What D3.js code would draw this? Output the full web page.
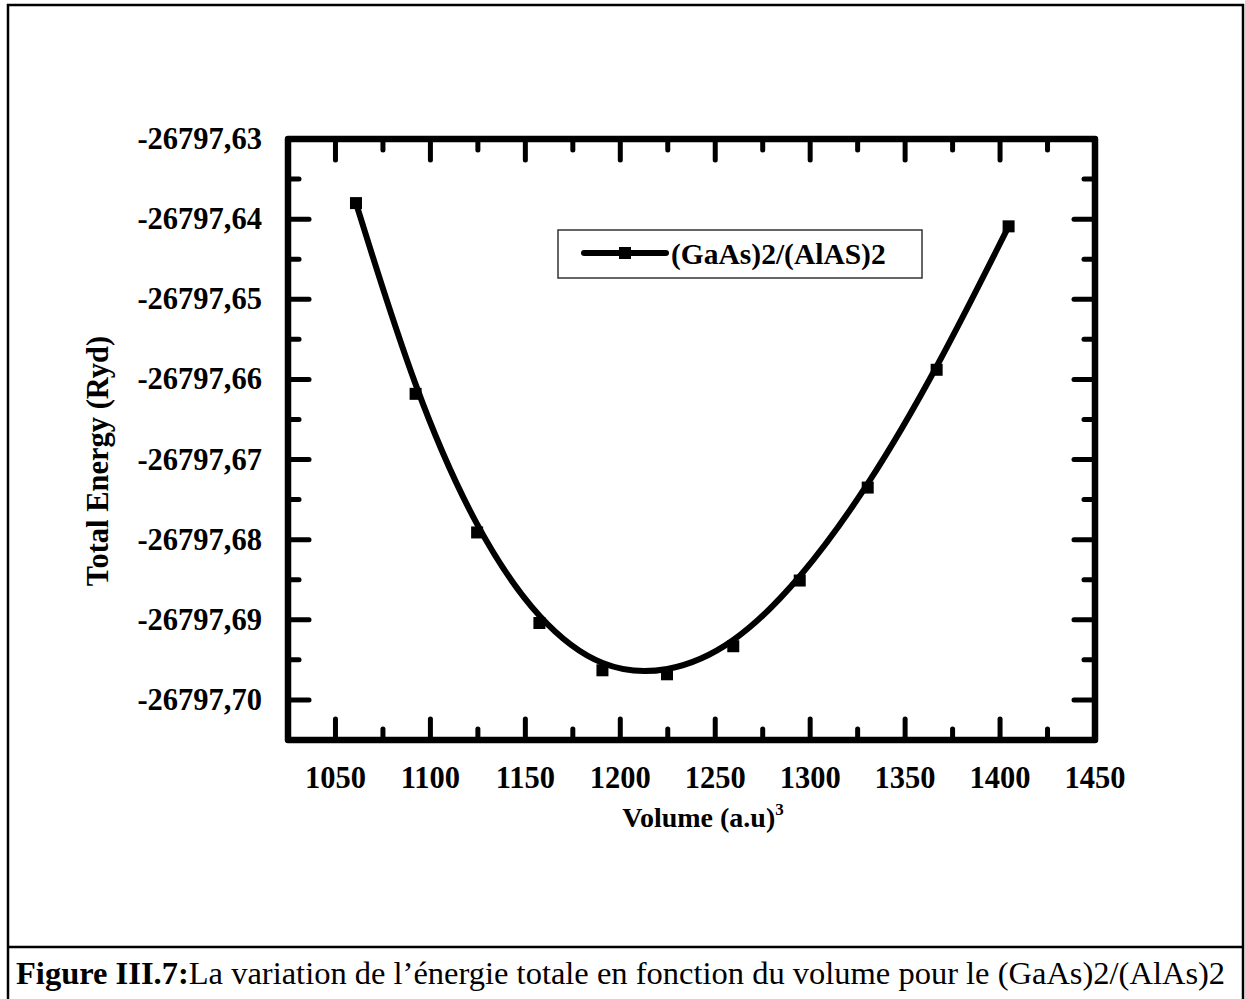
<!DOCTYPE html>
<html>
<head>
<meta charset="utf-8">
<script src="https://cdn.jsdelivr.net/npm/d3@7"></script>
<style>
  html, body { margin: 0; padding: 0; background: #fff; }
  svg { display: block; }
  text { font-family: "Liberation Serif", "Times New Roman", serif; fill: #000; }
</style>
</head>
<body>
<svg id="chart" width="1245" height="999"></svg>
<script>
// ---- data ----
const volume = [1060.8, 1092.2, 1124.6, 1157.4, 1190.6, 1224.6, 1259.5, 1294.5, 1330.3, 1366.6, 1404.5];
const energy = [-26797.6380, -26797.6618, -26797.6791, -26797.6904, -26797.6963, -26797.6968,
                 -26797.6933, -26797.6851, -26797.6735, -26797.6588, -26797.6409];
const seriesName = "(GaAs)2/(AlAS)2";

const xMajorTicks = [1050, 1100, 1150, 1200, 1250, 1300, 1350, 1400, 1450];
const xMinorTicks = [1025, 1075, 1125, 1175, 1225, 1275, 1325, 1375, 1425];
const yMajorTicks = [-26797.63, -26797.64, -26797.65, -26797.66, -26797.67, -26797.68, -26797.69, -26797.70];
const yTickLabels = ["-26797,63", "-26797,64", "-26797,65", "-26797,66", "-26797,67", "-26797,68", "-26797,69", "-26797,70"];
const yMinorTicks = [-26797.635, -26797.645, -26797.655, -26797.665, -26797.675, -26797.685, -26797.695, -26797.705];

const xTitle = "Volume (a.u)";
const xTitleSup = "3";
const yTitle = "Total Energy (Ryd)";
const captionBold = "Figure III.7:";
const captionText = "La variation de l\u2019\u00e9nergie totale en fonction du volume pour le (GaAs)2/(AlAs)2";

// ---- layout ----
const svg = d3.select("#chart");
const L = 288, R = 1095, T = 139, B = 740;

const x = d3.scaleLinear().domain([1025, 1450]).range([L, R]);
const y = d3.scaleLinear().domain([-26797.705, -26797.63]).range([B, T]);

// outer border
svg.append("rect").attr("x", 8).attr("y", 5).attr("width", 1235).attr("height", 1010)
  .attr("fill", "none").attr("stroke", "#000").attr("stroke-width", 2.5);
// caption separator
svg.append("line").attr("x1", 8).attr("x2", 1243).attr("y1", 947).attr("y2", 947)
  .attr("stroke", "#000").attr("stroke-width", 2.5);

// ticks (inward, all four sides)
const tickG = svg.append("g").attr("stroke", "#000").attr("stroke-width", 5).attr("stroke-linecap", "round");
const MAJ = 21, MIN = 11;
function xTicks(vals, len) {
  vals.forEach(v => {
    tickG.append("line").attr("x1", x(v)).attr("x2", x(v)).attr("y1", B).attr("y2", B - len);
    tickG.append("line").attr("x1", x(v)).attr("x2", x(v)).attr("y1", T).attr("y2", T + len);
  });
}
function yTicks(vals, len) {
  vals.forEach(v => {
    tickG.append("line").attr("y1", y(v)).attr("y2", y(v)).attr("x1", L).attr("x2", L + len);
    tickG.append("line").attr("y1", y(v)).attr("y2", y(v)).attr("x1", R).attr("x2", R - len);
  });
}
xTicks(xMajorTicks, MAJ); xTicks(xMinorTicks, MIN);
yTicks(yMajorTicks, MAJ); yTicks(yMinorTicks, MIN);

// frame
svg.append("rect").attr("x", L).attr("y", T).attr("width", R - L).attr("height", B - T)
  .attr("fill", "none").attr("stroke", "#000").attr("stroke-width", 6.5).attr("stroke-linejoin", "round");

// tick labels
svg.append("g").selectAll("text").data(xMajorTicks).join("text")
  .attr("x", d => x(d)).attr("y", 788)
  .attr("text-anchor", "middle").attr("font-size", 30.5).attr("font-weight", "bold")
  .text(d => d);
svg.append("g").selectAll("text").data(yMajorTicks).join("text")
  .attr("x", 262).attr("y", d => y(d) + 10)
  .attr("text-anchor", "end").attr("font-size", 30.5).attr("font-weight", "bold")
  .text((d, i) => yTickLabels[i]);

// axis titles
const xt = svg.append("text").attr("x", 703).attr("y", 827).attr("text-anchor", "middle")
  .attr("font-size", 28).attr("font-weight", "bold");
xt.append("tspan").text(xTitle);
xt.append("tspan").attr("dy", -12).attr("font-size", 17).text(xTitleSup);

svg.append("text").attr("transform", "translate(108,461) rotate(-90)")
  .attr("text-anchor", "middle").attr("font-size", 30.5).attr("font-weight", "bold")
  .text(yTitle);

// data
const pts = volume.map((v, i) => [v, energy[i]]);
svg.append("g").selectAll("rect").data(pts).join("rect")
  .attr("x", d => x(d[0]) - 6).attr("y", d => y(d[1]) - 6)
  .attr("width", 12).attr("height", 12).attr("fill", "#000");
svg.append("path").datum(pts)
  .attr("d", d3.line().x(d => x(d[0])).y(d => y(d[1])).curve(d3.curveBasis))
  .attr("fill", "none").attr("stroke", "#000").attr("stroke-width", 6);

// legend
const lg = svg.append("g");
lg.append("rect").attr("x", 558).attr("y", 230).attr("width", 364).attr("height", 48)
  .attr("fill", "#fff").attr("stroke", "#333").attr("stroke-width", 1.5);
lg.append("line").attr("x1", 584).attr("x2", 666).attr("y1", 253).attr("y2", 253)
  .attr("stroke", "#000").attr("stroke-width", 6).attr("stroke-linecap", "round");
lg.append("rect").attr("x", 619).attr("y", 247).attr("width", 12).attr("height", 12).attr("fill", "#000");
lg.append("text").attr("x", 671).attr("y", 264).attr("font-size", 29.5).attr("font-weight", "bold")
  .text(seriesName);

// caption
const cap = svg.append("text").attr("x", 16).attr("y", 984).attr("font-size", 32.5);
cap.append("tspan").attr("font-weight", "bold").text(captionBold);
cap.append("tspan").text(captionText);
</script>
</body>
</html>
